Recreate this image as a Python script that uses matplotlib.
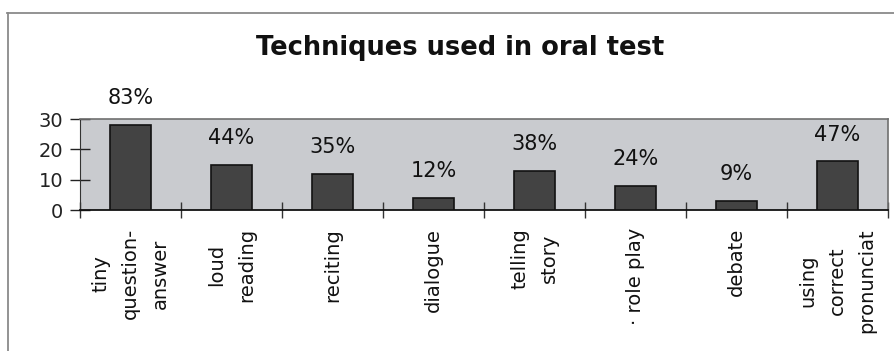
import matplotlib
matplotlib.use("Agg")
import matplotlib.pyplot as plt
from matplotlib.lines import Line2D
import numpy as np

# Oral-test techniques: number of respondents and share of respondents
categories = ["tiny\nquestion-\nanswer", "loud\nreading", "reciting", "dialogue",
              "telling\nstory", "· role play", "debate", "using\ncorrect\npronunciat"]
counts = [28, 15, 12, 4, 13, 8, 3, 16]
percent_labels = ["83%", "44%", "35%", "12%", "38%", "24%", "9%", "47%"]
y_ticks = [0, 10, 20, 30]

plt.rcParams["font.family"] = ["DejaVu Sans"]

fig = plt.figure(figsize=(8.95, 3.51), dpi=100)
fig.patch.set_facecolor("white")

ax = fig.add_axes([80 / 895, 1 - 210 / 351, 808 / 895, 91 / 351])
ax.set_facecolor("#c9cbcf")

x = np.arange(len(categories))
bars = ax.bar(x, counts, width=0.41, color="#434343", edgecolor="#121212", linewidth=1.2, zorder=3)

for rect, lab in zip(bars, percent_labels):
    ax.annotate(lab, (rect.get_x() + rect.get_width() / 2, rect.get_height()),
                xytext=(0, 12), textcoords="offset points",
                ha="center", va="bottom", fontsize=15, color="#111111")

ax.set_xlim(-0.5, len(categories) - 0.5)
ax.set_ylim(0, 30)
ax.set_yticks(y_ticks)
ax.tick_params(axis="y", direction="inout", length=14, width=1, labelsize=14, pad=5,
               colors="#222222")

# Category separators below the axis, names centred between them
ax.set_xticks(np.arange(-0.5, len(categories), 1.0))
ax.set_xticklabels([])
ax.tick_params(axis="x", which="major", direction="inout", length=12, width=1, color="#333333")
ax.set_xticks(x, minor=True)
ax.set_xticklabels(categories, minor=True, rotation=90, fontsize=14,
                   linespacing=1.7, multialignment="center", color="#111111")
ax.tick_params(axis="x", which="minor", length=0, pad=13)

for side in ("top", "right"):
    ax.spines[side].set_color("#707070")
    ax.spines[side].set_linewidth(1.2)
ax.spines["left"].set_color("#333333")
ax.spines["bottom"].set_color("#111111")
ax.spines["bottom"].set_linewidth(1.3)

fig.text(460 / 895, 1 - 55 / 351, "Techniques used in oral test", ha="center", va="baseline",
         fontsize=18.5, fontweight="bold", color="#111111")

# Chart-area frame (top and left edges)
fig.add_artist(Line2D([7 / 895, 1.0], [1 - 13 / 351, 1 - 13 / 351], transform=fig.transFigure,
                      color="#8a8a8a", linewidth=1.3))
fig.add_artist(Line2D([8 / 895, 8 / 895], [1 - 13 / 351, 0.0], transform=fig.transFigure,
                      color="#8a8a8a", linewidth=1.3))

fig.savefig("out.png", dpi=100)
